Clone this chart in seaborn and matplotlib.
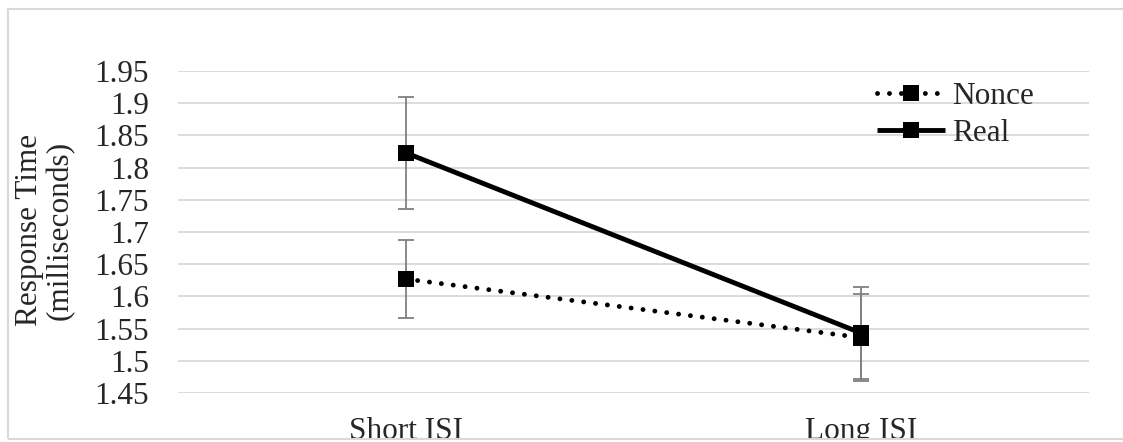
import pandas as pd
import seaborn as sns
import matplotlib.pyplot as plt
from matplotlib.patches import Rectangle

conditions = ["Short ISI", "Long ISI"]
nonce_mean = [1.627, 1.536]
nonce_err = [0.060, 0.068]
real_mean = [1.823, 1.543]
real_err = [0.087, 0.072]
y_ticks = [1.45, 1.5, 1.55, 1.6, 1.65, 1.7, 1.75, 1.8, 1.85, 1.9, 1.95]
y_tick_labels = ["1.45", "1.5", "1.55", "1.6", "1.65", "1.7", "1.75", "1.8", "1.85", "1.9", "1.95"]

df = pd.DataFrame({
    "ISI": conditions * 2,
    "rt": nonce_mean + real_mean,
    "err": nonce_err + real_err,
    "Word": ["Nonce"] * 2 + ["Real"] * 2,
})

sns.set_style("white")
plt.rcParams["font.family"] = ["Liberation Serif", "DejaVu Serif"]
fs = 22.5

fig = plt.figure(figsize=(11.23, 4.42), dpi=100)
ax = fig.add_axes([178 / 1123, 1 - 393 / 442, (1089 - 178) / 1123, (393 - 71) / 442])

# error bars first, so markers sit on top
for word, sub in df.groupby("Word"):
    ax.errorbar(sub["ISI"], sub["rt"], yerr=sub["err"], fmt="none",
                ecolor="#808080", elinewidth=1.3, capsize=6, capthick=1.3, zorder=2)

sns.lineplot(data=df, x="ISI", y="rt", style="Word", markers={"Nonce": "s", "Real": "s"},
             dashes={"Nonce": (0.01, 2.45), "Real": ""}, color="black", lw=3.5,
             markersize=11, markeredgewidth=0, ax=ax, zorder=3,
             dash_capstyle="round", solid_capstyle="butt")

ax.set_xlim(-0.5, 1.5)
ax.set_ylim(1.45, 1.95)
ax.set_yticks(y_ticks)
ax.set_yticklabels(y_tick_labels)
ax.yaxis.grid(True, color="#d9d9d9", lw=1.3)
ax.set_axisbelow(True)
for s in ax.spines.values():
    s.set_visible(False)
ax.tick_params(axis="both", length=0, labelsize=fs)
ax.tick_params(axis="y", pad=21)
ax.tick_params(axis="x", pad=17)
ax.set_xlabel("")
ax.set_ylabel("")

fig.text(45 / 1123, 1 - 230 / 442, "Response Time\n(milliseconds)", rotation=90,
         ha="center", va="center", fontsize=fs, linespacing=1.05)

leg = ax.legend(loc="upper left", bbox_to_anchor=(0.767, 0.966), frameon=False,
                fontsize=fs, handlelength=2.2, handletextpad=0.2, labelspacing=0.27,
                borderpad=0, borderaxespad=0)
for h in leg.get_lines():
    h.set_linewidth(3.5)

# chart border, cut at the bottom like the reference
fig.patches.append(Rectangle((0, 0), 1, 3 / 442, transform=fig.transFigure,
                             facecolor="white", edgecolor="none", zorder=10))
fig.patches.append(Rectangle((8 / 1123, 3 / 442), 1.2, (439 - 9) / 442, transform=fig.transFigure,
                             facecolor="none", edgecolor="#d9d9d9", lw=1.5, zorder=11))

fig.savefig("out.png", dpi=100)
